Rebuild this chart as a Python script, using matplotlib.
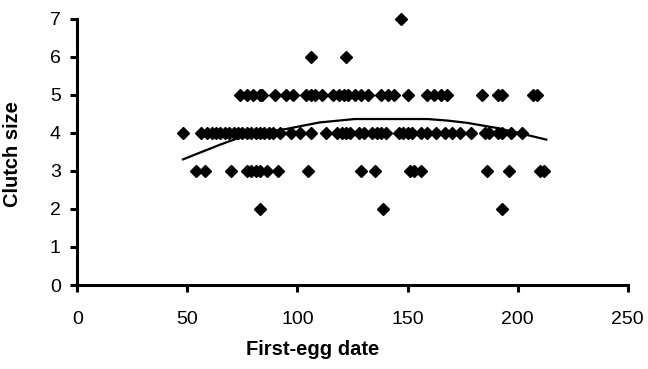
import numpy as np
import matplotlib
matplotlib.use('Agg')
import matplotlib.pyplot as plt

plt.rcParams['font.family'] = ['Liberation Sans', 'DejaVu Sans']

# first-egg dates grouped by clutch size
dates_2 = [83, 139, 193]
dates_3 = [54, 58, 70, 77, 79, 81, 83, 86, 91, 105, 129, 135, 151, 153, 156,
           186, 196, 210, 212]
dates_4 = [48, 56, 59, 61, 63, 65, 67, 69, 71, 73, 75, 77, 79, 81, 83, 85, 87,
           89, 92, 97, 101, 106, 113, 118, 120, 122, 124, 128, 130, 134, 136,
           138, 140, 146, 148, 150, 152, 156, 159, 163, 167, 170, 174, 179,
           185, 187, 191, 193, 197, 202]
dates_5 = [74, 77, 80, 83, 84, 90, 95, 98, 104, 106, 108, 111, 116, 119, 121,
           123, 126, 129, 132, 138, 141, 144, 150, 159, 162, 165, 168, 184,
           191, 193, 207, 209]
dates_6 = [106, 122]
dates_7 = [147]

# trend line
trend_x = [48, 65, 75, 85, 95, 110, 126, 140, 159, 168, 177, 191, 200, 213]
trend_y = [3.3, 3.69, 3.9, 4.02, 4.1, 4.27, 4.36, 4.36, 4.36, 4.32, 4.26,
           4.12, 4.0, 3.82]

xs = []
ys = []
for size, dates in [(2, dates_2), (3, dates_3), (4, dates_4),
                    (5, dates_5), (6, dates_6), (7, dates_7)]:
    xs.extend(dates)
    ys.extend([size] * len(dates))

fig = plt.figure(figsize=(6.48, 3.69), dpi=100)
ax = fig.add_axes([0.1193, 0.2276, 0.8494, 0.7222])

ax.plot(xs, ys, linestyle='none', marker='D', markersize=6.3, color='black',
        clip_on=False)
ax.plot(trend_x, trend_y, color='black', linewidth=1.6)

ax.set_xlim(0, 250)
ax.set_ylim(0, 7)
ax.set_xticks([0, 50, 100, 150, 200, 250])
ax.set_yticks(range(0, 8))

for side in ['top', 'right']:
    ax.spines[side].set_visible(False)
for side in ['left', 'bottom']:
    ax.spines[side].set_linewidth(2.2)
ax.tick_params(direction='out', length=5, width=2.2, labelsize=14)
ax.tick_params(axis='x', pad=14)
ax.tick_params(axis='y', pad=7)

ax.set_xlabel('First-egg date', fontsize=14.5, fontweight='bold')
ax.set_ylabel('Clutch size', fontsize=14.5, fontweight='bold')
ax.xaxis.set_label_coords(0.427, -0.205)
ax.yaxis.set_label_coords(-0.1, 0.49)

plt.savefig('out.png')
